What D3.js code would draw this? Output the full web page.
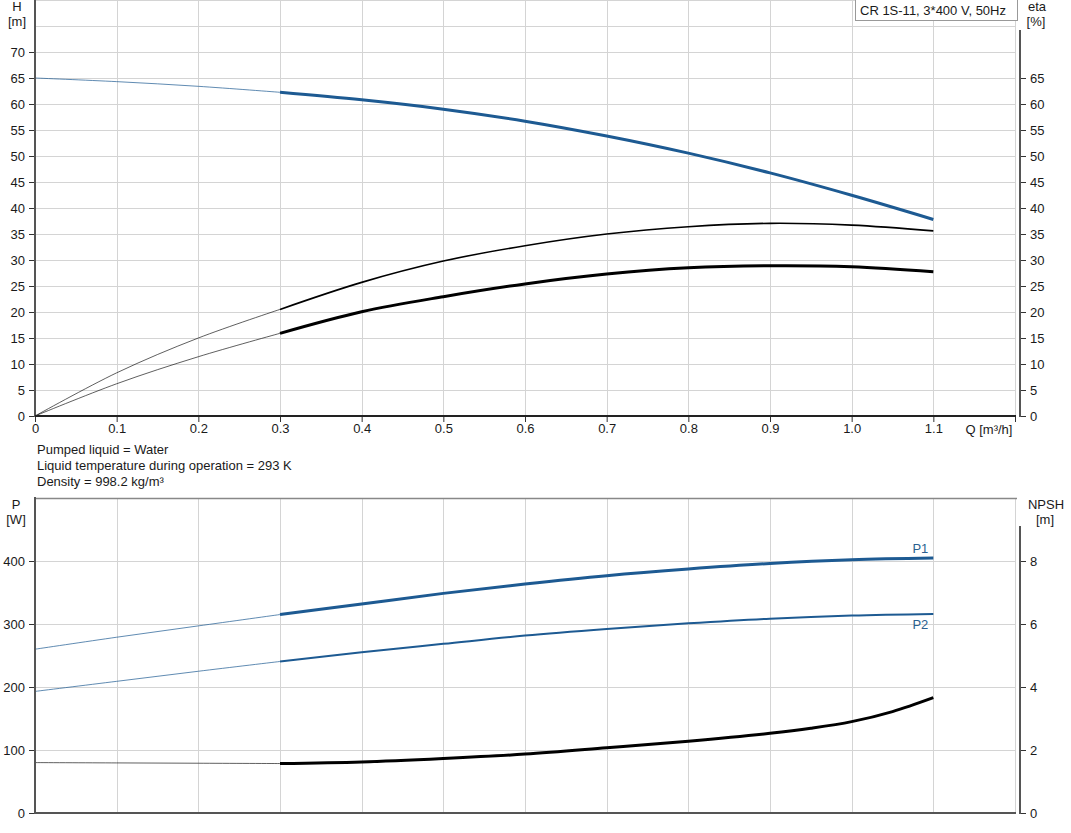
<!DOCTYPE html>
<html>
<head>
<meta charset="utf-8">
<script src="https://cdn.jsdelivr.net/npm/d3@7"></script>
<style>
  html, body { margin: 0; padding: 0; background: #fff; }
  svg { display: block; font-family: "Liberation Sans", Arial, sans-serif; }
</style>
</head>
<body>
<svg id="chart" width="1071" height="833"></svg>
<script>
// ---- data ----
const qVals    = [0, 0.1, 0.2, 0.3, 0.4, 0.5, 0.6, 0.7, 0.8, 0.9, 1.0, 1.1];
const head     = [65, 64.3, 63.4, 62.25, 60.8, 59.0, 56.7, 53.85, 50.55, 46.75, 42.45, 37.8];
const etaPump  = [0, 8.3, 15.0, 20.5, 25.7, 29.8, 32.75, 35.0, 36.4, 37.05, 36.7, 35.6];
const etaTotal = [0, 6.2, 11.4, 15.9, 20.05, 22.95, 25.4, 27.3, 28.5, 28.9, 28.7, 27.75];
const p1       = [260, 279, 297, 315, 331.8, 348.6, 363.4, 376.6, 387.2, 396, 401.9, 404.6];
const p2       = [193, 209, 225, 240.5, 255.3, 268.5, 281.6, 292.0, 301.0, 308.5, 313.5, 316];
const npshQ    = [0, 0.1, 0.2, 0.3, 0.4, 0.5, 0.6, 0.7, 0.8, 0.9, 0.95, 1.0, 1.05, 1.1];
const npsh     = [1.6, 1.59, 1.58, 1.57, 1.62, 1.73, 1.87, 2.07, 2.28, 2.53, 2.69, 2.90, 3.22, 3.66];

const qTicks     = [0, 0.1, 0.2, 0.3, 0.4, 0.5, 0.6, 0.7, 0.8, 0.9, 1.0, 1.1, 1.2];
const qTickLabels = ["0", "0.1", "0.2", "0.3", "0.4", "0.5", "0.6", "0.7", "0.8", "0.9", "1.0", "1.1", ""];
const hTicks   = [0, 5, 10, 15, 20, 25, 30, 35, 40, 45, 50, 55, 60, 65, 70];
const etaTicks = [0, 5, 10, 15, 20, 25, 30, 35, 40, 45, 50, 55, 60, 65];
const hGrid    = [5, 10, 15, 20, 25, 30, 35, 40, 45, 50, 55, 60, 65, 70, 75];
const pTicks   = [0, 100, 200, 300, 400];
const pGrid    = [100, 200, 300, 400];
const nTicks   = [0, 2, 4, 6, 8];
const infoLines = ["Pumped liquid = Water", "Liquid temperature during operation = 293 K", "Density = 998.2 kg/m\u00B3"];
const chartTitle = "CR 1S-11, 3*400 V, 50Hz";
const opStartQ = 0.3; // flow where the operating (thick) range begins

// ---- layout ----
const svg = d3.select("#chart");
const X0 = 35, X1 = 1015, RAX = 1020;
const FS = "13px";
const x = d3.scaleLinear().domain([0, 1.2]).range([X0, X1]);
const yTop = d3.scaleLinear().domain([0, 80]).range([416, 0]);
const yP = d3.scaleLinear().domain([0, 500]).range([813, 498]);
const yN = d3.scaleLinear().domain([0, 10]).range([813, 498]);

const BLUE = "#1d5a92";
const GRID = "#d4d4d4";
const AXIS = "#555";
const TXT = "#1a1a1a";

function grid(g, yScale, yVals, yMin, yMax) {
  g.selectAll("line.h").data(yVals).enter().append("line")
    .attr("x1", X0).attr("x2", X1)
    .attr("y1", d => Math.round(yScale(d)) + 0.5).attr("y2", d => Math.round(yScale(d)) + 0.5)
    .attr("stroke", GRID).attr("stroke-width", 1);
  g.selectAll("line.v").data(qTicks.slice(1)).enter().append("line")
    .attr("x1", d => Math.round(x(d)) + 0.5).attr("x2", d => Math.round(x(d)) + 0.5)
    .attr("y1", yMin).attr("y2", yMax)
    .attr("stroke", GRID).attr("stroke-width", 1);
}

function styleAxis(g) {
  g.select(".domain").remove();
  g.selectAll(".tick line").attr("stroke", "#333").attr("stroke-width", 1);
  g.selectAll(".tick text").attr("fill", TXT).style("font-size", FS)
    .style("font-family", '"Liberation Sans", Arial, sans-serif');
}

function drawSeries(g, yScale, qs, vals, color, wThin, wThick) {
  const pts = qs.map((q, i) => [q, vals[i]]);
  const line = d3.line().x(d => x(d[0])).y(d => yScale(d[1])).curve(d3.curveCatmullRom.alpha(0.5));
  g.append("path").attr("d", line(pts.filter(d => d[0] <= opStartQ + 1e-9)))
    .attr("fill", "none").attr("stroke", color).attr("stroke-width", wThin).attr("stroke-opacity", 0.7);
  g.append("path").attr("d", line(pts.filter(d => d[0] >= opStartQ - 1e-9)))
    .attr("fill", "none").attr("stroke", color).attr("stroke-width", wThick);
}

function label(g, txt, xx, yy, anchor, color) {
  g.append("text").attr("x", xx).attr("y", yy).attr("text-anchor", anchor || "middle")
    .attr("fill", color || TXT).style("font-size", FS).text(txt);
}

// ================= TOP CHART =================
const topG = svg.append("g");
grid(topG, yTop, hGrid, 0, 416);
topG.append("line").attr("x1", X0).attr("x2", X1).attr("y1", 0.5).attr("y2", 0.5).attr("stroke", GRID);

drawSeries(topG, yTop, qVals, etaPump, "#000", 0.9, 1.6);
drawSeries(topG, yTop, qVals, etaTotal, "#000", 0.9, 3);
drawSeries(topG, yTop, qVals, head, BLUE, 1, 3);

topG.append("line").attr("x1", X0).attr("x2", X0).attr("y1", 0).attr("y2", 417).attr("stroke", AXIS).attr("stroke-width", 2);
topG.append("line").attr("x1", X0).attr("x2", X1 + 1).attr("y1", 416).attr("y2", 416).attr("stroke", "#222").attr("stroke-width", 2);
topG.append("line").attr("x1", RAX).attr("x2", RAX).attr("y1", 30).attr("y2", 417).attr("stroke", AXIS).attr("stroke-width", 2);

const axL = topG.append("g").attr("transform", `translate(${X0 - 1},0)`)
  .call(d3.axisLeft(yTop).tickValues(hTicks).tickSize(5).tickPadding(4).tickFormat(d3.format("d")));
styleAxis(axL);
const axR = topG.append("g").attr("transform", `translate(${RAX + 1},0)`)
  .call(d3.axisRight(yTop).tickValues(etaTicks).tickSize(5).tickPadding(4).tickFormat(d3.format("d")));
styleAxis(axR);
const axB = topG.append("g").attr("transform", `translate(0,417)`)
  .call(d3.axisBottom(x).tickValues(qTicks).tickSize(5).tickPadding(2).tickFormat((d, i) => qTickLabels[i]));
styleAxis(axB);

label(topG, "H", 17, 11);
label(topG, "[m]", 17, 26);
label(topG, "eta", 1037, 11);
label(topG, "[%]", 1036, 26);
label(topG, "Q [m\u00B3/h]", 989, 434);

topG.append("rect").attr("x", 855.5).attr("y", -0.5).attr("width", 162).attr("height", 21)
  .attr("fill", "#fff").attr("stroke", "#999");
label(topG, chartTitle, 860, 15, "start");

infoLines.forEach((t, i) => label(svg, t, 37, 454 + i * 16, "start"));

// ================= BOTTOM CHART =================
const botG = svg.append("g");
grid(botG, yP, pGrid, 498, 813);
botG.append("line").attr("x1", X0).attr("x2", X1 + 2).attr("y1", 498.5).attr("y2", 498.5).attr("stroke", "#888").attr("stroke-width", 1.5);

drawSeries(botG, yN, npshQ, npsh, "#000", 0.9, 3);
drawSeries(botG, yP, qVals, p2, BLUE, 1, 2);
drawSeries(botG, yP, qVals, p1, BLUE, 1, 3);

botG.append("line").attr("x1", X0).attr("x2", X0).attr("y1", 497).attr("y2", 814).attr("stroke", AXIS).attr("stroke-width", 2);
botG.append("line").attr("x1", X0).attr("x2", X1 + 1).attr("y1", 813).attr("y2", 813).attr("stroke", AXIS).attr("stroke-width", 2);
botG.append("line").attr("x1", RAX).attr("x2", RAX).attr("y1", 526).attr("y2", 814).attr("stroke", AXIS).attr("stroke-width", 2);

const axPL = botG.append("g").attr("transform", `translate(${X0 - 1},0)`)
  .call(d3.axisLeft(yP).tickValues(pTicks).tickSize(5).tickPadding(4).tickFormat(d3.format("d")));
styleAxis(axPL);
const axNR = botG.append("g").attr("transform", `translate(${RAX + 1},0)`)
  .call(d3.axisRight(yN).tickValues(nTicks).tickSize(5).tickPadding(4).tickFormat(d3.format("d")));
styleAxis(axNR);

label(botG, "P", 16, 509);
label(botG, "[W]", 16, 524);
label(botG, "NPSH", 1046, 509);
label(botG, "[m]", 1045, 524);

label(botG, "P1", x(qVals[qVals.length - 1]) - 5, yP(p1[p1.length - 1]) - 5, "end", "#2b5f90");
label(botG, "P2", x(qVals[qVals.length - 1]) - 5, yP(p2[p2.length - 1]) + 15, "end", "#2b5f90");
</script>
</body>
</html>
